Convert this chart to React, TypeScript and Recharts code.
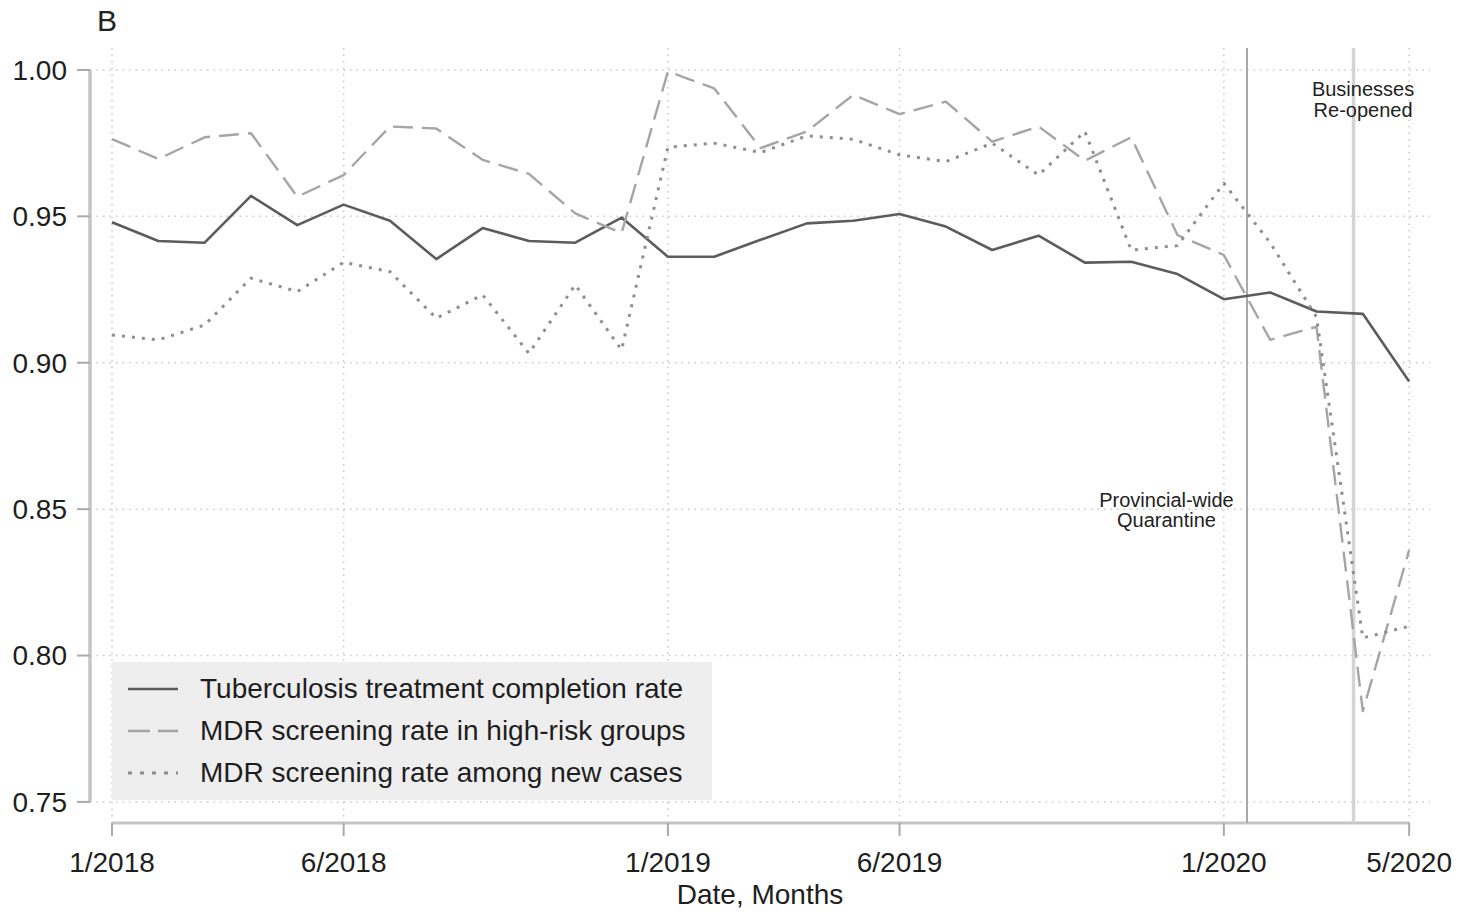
import React from "react";
import { LineChart, Line, XAxis, YAxis, ReferenceLine, Legend, Label } from "recharts";

const FONT = '"Liberation Sans", Arial, Helvetica, sans-serif';

const months = [
  "1/2018", "2/2018", "3/2018", "4/2018", "5/2018", "6/2018", "7/2018", "8/2018", "9/2018", "10/2018", "11/2018", "12/2018",
  "1/2019", "2/2019", "3/2019", "4/2019", "5/2019", "6/2019", "7/2019", "8/2019", "9/2019", "10/2019", "11/2019", "12/2019",
  "1/2020", "2/2020", "3/2020", "4/2020", "5/2020",
];

const completionRate = [
  0.948, 0.9416, 0.941, 0.957, 0.947, 0.954, 0.9485, 0.9354, 0.946, 0.9416, 0.941, 0.9496,
  0.9362, 0.9362, 0.942, 0.9476, 0.9485, 0.9508, 0.9465, 0.9385, 0.9434, 0.9342, 0.9345, 0.9303,
  0.9217, 0.924, 0.9175, 0.9167, 0.8936,
];

const highRiskScreening = [
  0.9764, 0.9696, 0.977, 0.9784, 0.9567, 0.9641, 0.9807, 0.98, 0.9693, 0.9645, 0.951, 0.9443,
  0.9995, 0.9937, 0.9733, 0.979, 0.9915, 0.9849, 0.9892, 0.9755, 0.9807, 0.969, 0.977, 0.9436,
  0.9368, 0.9078, 0.9123, 0.781, 0.836,
];

const newCaseScreening = [
  0.9095, 0.9078, 0.9129, 0.9289, 0.9243, 0.9343, 0.9311, 0.9152, 0.9232, 0.9032, 0.9266, 0.9044,
  0.9736, 0.975, 0.9718, 0.9775, 0.9763, 0.971, 0.9687, 0.975, 0.9641, 0.979, 0.9385, 0.94,
  0.9613, 0.941, 0.9156, 0.806, 0.81,
];

const xTickMonths = ["1/2018", "6/2018", "1/2019", "6/2019", "1/2020", "5/2020"];
const yTicks = [0.75, 0.8, 0.85, 0.9, 0.95, 1.0];

// event markers (month index, fractional)
const quarantineMonth = 24.5;
const reopenMonth = 26.8;

const xMin = -0.475;
const xMax = 28.45;
const yMin = 0.7428;
const yMax = 1.0075;

const series = [
  { key: "completion", name: "Tuberculosis treatment completion rate", color: "#5c5c5c", width: 2.6, dash: undefined, legendDash: undefined },
  { key: "highRisk", name: "MDR screening rate in high-risk groups", color: "#a5a5a5", width: 2.4, dash: "20 9", legendDash: "22 8" },
  { key: "newCases", name: "MDR screening rate among new cases", color: "#8e8e8e", width: 3, dash: "3 7", legendDash: "4 8" },
];

const data = months.map((m, i) => ({
  idx: i,
  month: m,
  completion: completionRate[i],
  highRisk: highRiskScreening[i],
  newCases: newCaseScreening[i],
}));

const xTicks = xTickMonths.map((m) => months.indexOf(m));

const gridStyle = { stroke: "#c8c8c8", strokeWidth: 1.5, strokeDasharray: "1.5 5" };

const LegendBox = () => (
  <div
    style={{
      width: 600,
      height: 138,
      background: "#eeeeee",
      paddingTop: 6,
      boxSizing: "border-box",
      fontFamily: FONT,
    }}
  >
    {series.map((s) => (
      <div key={s.key} style={{ display: "flex", alignItems: "center", height: 42 }}>
        <svg width={88} height={42} style={{ flex: "none" }}>
          <line x1={16} x2={66} y1={21} y2={21} stroke={s.color} strokeWidth={s.width} strokeDasharray={s.legendDash} />
        </svg>
        <span style={{ fontSize: 28, color: "#1e1e1e", lineHeight: "42px", whiteSpace: "nowrap" }}>{s.name}</span>
      </div>
    ))}
  </div>
);

const EventLabel = (props: any) => {
  const { viewBox, lines, dx, dy, gap } = props;
  if (!viewBox) return null;
  const x = viewBox.x + dx;
  return (
    <text x={x} y={viewBox.y + dy} textAnchor="middle" fontSize={20} fill="#222" fontFamily={FONT}>
      {lines.map((l: string, i: number) => (
        <tspan key={i} x={x} dy={i === 0 ? 0 : gap}>
          {l}
        </tspan>
      ))}
    </text>
  );
};

export default function App() {
  return (
    <div style={{ position: "relative", width: 1445, height: 904, fontFamily: FONT }}>
      <div style={{ position: "absolute", left: 89, top: -4, fontSize: 30, color: "#222", fontFamily: FONT }}>B</div>
      <LineChart width={1445} height={904} data={data} margin={{ top: 40, right: 23, bottom: 0, left: 0 }}>
        <XAxis
          dataKey="idx"
          type="number"
          domain={[xMin, xMax]}
          allowDataOverflow
          ticks={xTicks}
          tickFormatter={(v: number) => months[v]}
          axisLine={false}
          tickLine={{ stroke: "#aaaaaa", strokeWidth: 2 }}
          tickSize={13}
          tickMargin={16}
          height={89}
          tick={{ fontSize: 28, fill: "#1e1e1e", fontFamily: FONT }}
          interval={0}
        >
          <Label value="Date, Months" position="insideBottom" offset={8} fontSize={28} fill="#1e1e1e" fontFamily={FONT} />
        </XAxis>
        <YAxis
          type="number"
          domain={[yMin, yMax]}
          allowDataOverflow
          ticks={yTicks}
          tickFormatter={(v: number) => v.toFixed(2)}
          axisLine={false}
          tickLine={{ stroke: "#aaaaaa", strokeWidth: 2 }}
          tickSize={13}
          tickMargin={10}
          width={82}
          tick={{ fontSize: 28, fill: "#1e1e1e", fontFamily: FONT }}
          interval={0}
        />
        {yTicks.map((v) => (
          <ReferenceLine key={`gy-${v}`} y={v} {...gridStyle} ifOverflow="visible" />
        ))}
        {xTicks.map((v) => (
          <ReferenceLine key={`gx-${v}`} x={v} {...gridStyle} ifOverflow="visible" />
        ))}
        <ReferenceLine
          segment={[{ x: xMin, y: 0.75 }, { x: xMin, y: 1.0 }]}
          stroke="#c4c4c4"
          strokeWidth={3.5}
          ifOverflow="visible"
        />
        <ReferenceLine
          segment={[{ x: 0, y: yMin }, { x: 28, y: yMin }]}
          stroke="#c4c4c4"
          strokeWidth={3}
          ifOverflow="visible"
        />
        <ReferenceLine
          x={quarantineMonth}
          stroke="#a9a9a9"
          strokeWidth={2}
          ifOverflow="visible"
          label={<EventLabel lines={["Provincial-wide", "Quarantine"]} dx={-80.5} dy={459} gap={20} />}
        />
        <ReferenceLine
          x={reopenMonth}
          stroke="#d4d4d4"
          strokeWidth={3.5}
          ifOverflow="visible"
          label={<EventLabel lines={["Businesses", "Re-opened"]} dx={9.5} dy={48} gap={21} />}
        />
        {series.map((s) => (
          <Line
            key={s.key}
            type="linear"
            dataKey={s.key}
            name={s.name}
            stroke={s.color}
            strokeWidth={s.width}
            strokeDasharray={s.dash}
            strokeLinejoin="round"
            dot={false}
            activeDot={false}
            isAnimationActive={false}
          />
        ))}
        <Legend
          layout="vertical"
          align="center"
          verticalAlign="middle"
          content={() => <LegendBox />}
          wrapperStyle={{ left: 104, top: 654, width: 600, height: 138 }}
        />
      </LineChart>
    </div>
  );
}
